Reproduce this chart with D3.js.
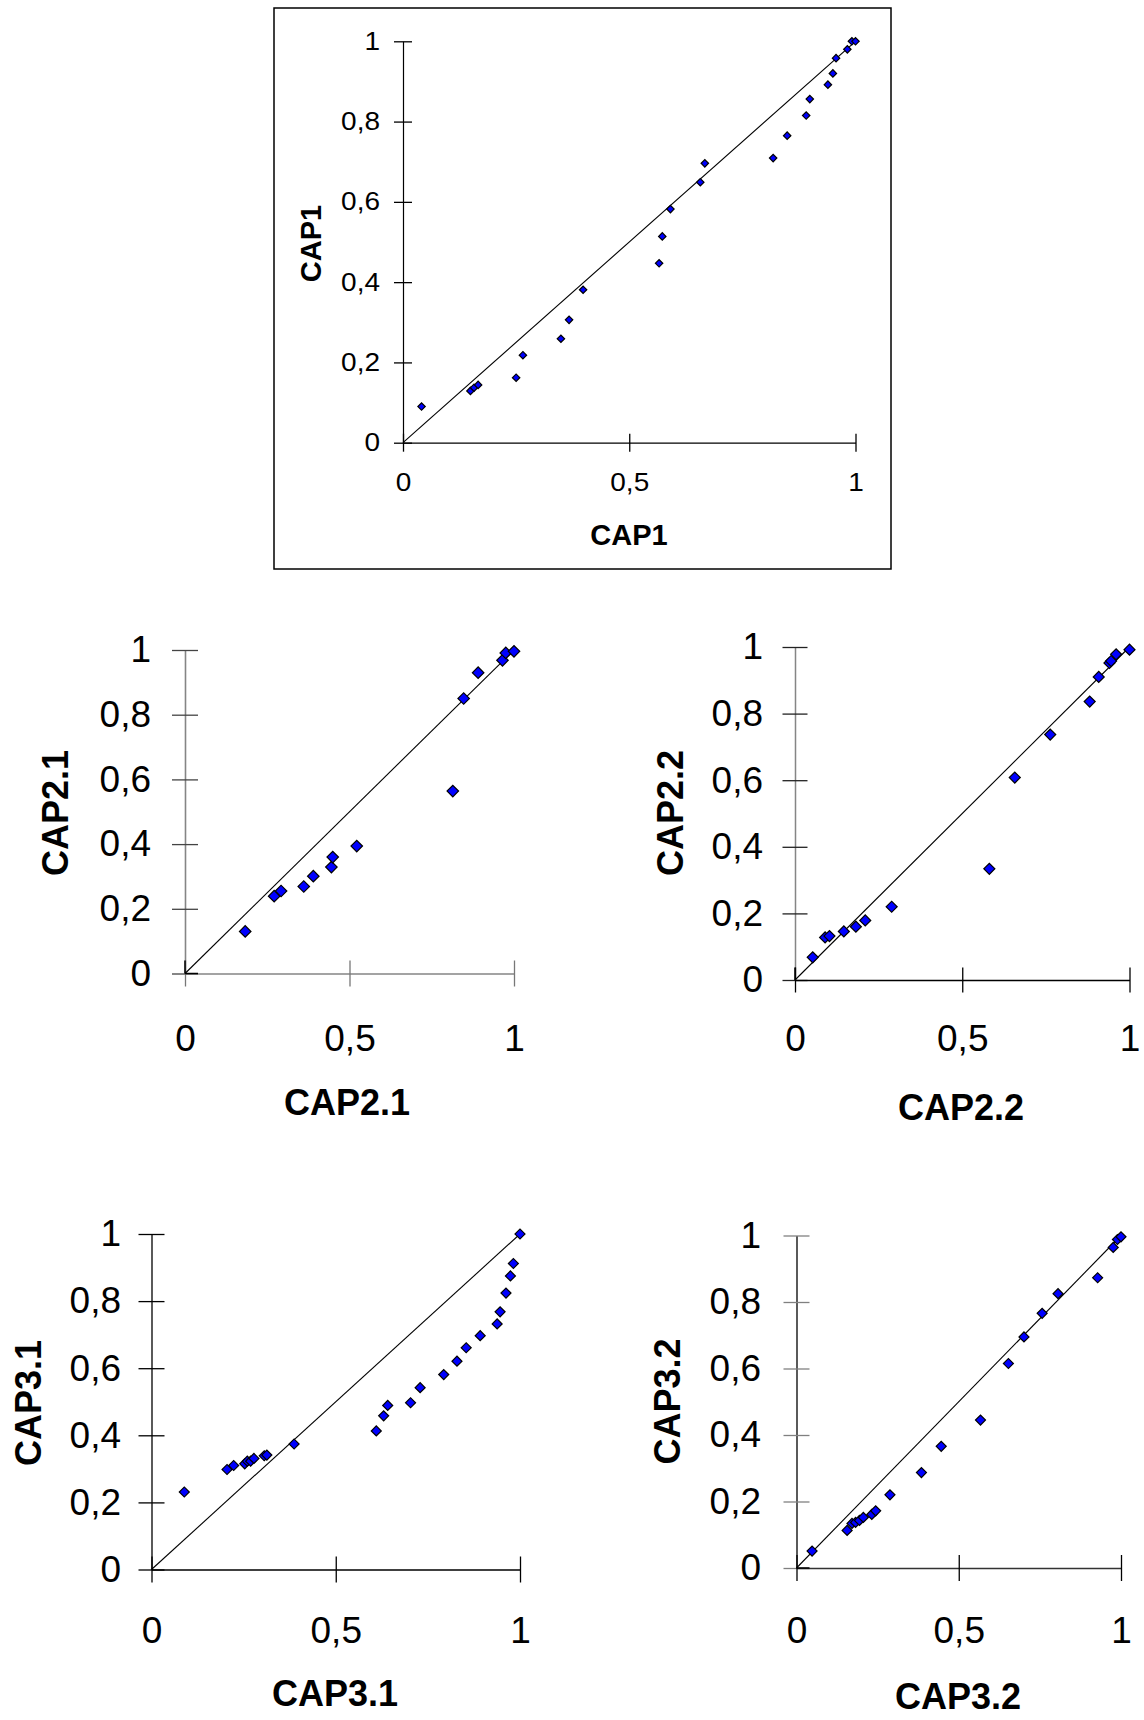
<!DOCTYPE html>
<html>
<head>
<meta charset="utf-8">
<script src="https://cdn.jsdelivr.net/npm/d3@7"></script>
<style>
  html, body { margin: 0; padding: 0; background: #fff; }
  svg { display: block; }
  text { font-family: "Liberation Sans", Arial, sans-serif; fill: #000; }
</style>
</head>
<body>
<svg id="chart" width="1144" height="1720"></svg>
<script>
// Tick values shared by every panel
const xTickValues = [0, 0.5, 1];
const yTickValues = [0, 0.2, 0.4, 0.6, 0.8, 1];

// CAP1 vs CAP1
const cap1X = [0.041, 0.149, 0.157, 0.166, 0.250, 0.265, 0.349, 0.367, 0.398, 0.566, 0.573, 0.591,
               0.657, 0.667, 0.818, 0.849, 0.891, 0.899, 0.939, 0.950, 0.957, 0.982, 0.992, 1.0];
const cap1Y = [0.090, 0.129, 0.137, 0.144, 0.162, 0.218, 0.259, 0.306, 0.381, 0.447, 0.514, 0.582,
               0.649, 0.696, 0.709, 0.765, 0.815, 0.856, 0.892, 0.920, 0.958, 0.980, 1.0, 1.0];

// CAP2.1 vs CAP2.1
const cap21X = [0.183, 0.271, 0.292, 0.361, 0.390, 0.445, 0.449, 0.522, 0.814, 0.847, 0.891, 0.965, 0.975, 1.0];
const cap21Y = [0.130, 0.239, 0.255, 0.269, 0.301, 0.329, 0.360, 0.394, 0.564, 0.850, 0.930, 0.968, 0.991, 0.996];

// CAP2.2 vs CAP2.2
const cap22X = [0.053, 0.090, 0.103, 0.146, 0.182, 0.210, 0.289, 0.581, 0.657, 0.763, 0.881, 0.908,
                0.940, 0.945, 0.960, 1.0];
const cap22Y = [0.068, 0.128, 0.132, 0.146, 0.160, 0.179, 0.220, 0.334, 0.608, 0.737, 0.836, 0.910,
                0.952, 0.958, 0.978, 0.992];

// CAP3.1 vs CAP3.1
const cap31X = [0.089, 0.205, 0.223, 0.253, 0.260, 0.269, 0.278, 0.306, 0.313, 0.387, 0.610, 0.630, 0.641,
                0.703, 0.729, 0.793, 0.829, 0.854, 0.892, 0.938, 0.946, 0.962, 0.974, 0.982, 1.0];
const cap31Y = [0.231, 0.298, 0.310, 0.315, 0.323, 0.323, 0.331, 0.339, 0.341, 0.374, 0.413, 0.458, 0.489,
                0.497, 0.542, 0.581, 0.621, 0.661, 0.697, 0.732, 0.768, 0.824, 0.875, 0.912, 1.0];

// CAP3.2 vs CAP3.2
const cap32X = [0.048, 0.156, 0.171, 0.182, 0.194, 0.206, 0.232, 0.244, 0.288, 0.385, 0.446, 0.567,
                0.653, 0.701, 0.757, 0.806, 0.928, 0.976, 0.989, 1.0];
const cap32Y = [0.051, 0.113, 0.134, 0.137, 0.143, 0.152, 0.161, 0.172, 0.220, 0.287, 0.366, 0.445,
                0.615, 0.695, 0.766, 0.825, 0.873, 0.964, 0.988, 0.996];

// Reference diagonal y = x
const diagonal = [0, 1];

const commaFmt = v => String(v).replace(".", ",");

// Panel layout and styling
const panels = [
  { name: "CAP1", xs: cap1X, ys: cap1Y,
    x0: 403, x1: 855.5, y0: 442.7, y1: 41.3,
    box: { x: 274, y: 8, w: 617, h: 561 },
    tickFont: 25, tickStretch: 1.12, tickLen: 9, yPad: 14, xPad: 22,
    titleFont: 29, xTitle: { x: 629, y: 545 }, yTitle: { x: 321, y: 243.5 },
    marker: 7.4, yAxis: "#000", xAxis: "#000", yTick: "#000", xTick: "#000", axisW: 1.2 },
  { name: "CAP2.1", xs: cap21X, ys: cap21Y,
    x0: 185, x1: 514, y0: 973.5, y1: 650,
    tickFont: 37, tickStretch: 1, tickLen: 13, yPad: 21, xPad: 38.5,
    titleFont: 36, xTitle: { x: 347, y: 1115 }, yTitle: { x: 67.5, y: 813 },
    marker: 11.5, yAxis: "#858585", xAxis: "#858585", yTick: "#444", xTick: "#777", axisW: 1.6,
    origin: { v: true, h: true } },
  { name: "CAP2.2", xs: cap22X, ys: cap22Y,
    x0: 795, x1: 1129.5, y0: 980, y1: 647,
    tickFont: 37, tickStretch: 1, tickLen: 12.5, yPad: 19.5, xPad: 32.5,
    titleFont: 36, xTitle: { x: 961, y: 1120 }, yTitle: { x: 683, y: 813 },
    marker: 11, yAxis: "#858585", xAxis: "#000", yTick: "#222", xTick: "#000", axisW: 1.5,
    origin: { v: true, h: false } },
  { name: "CAP3.1", xs: cap31X, ys: cap31Y,
    x0: 151.5, x1: 520, y0: 1569.5, y1: 1234,
    tickFont: 37, tickStretch: 1, tickLen: 13, yPad: 17.5, xPad: 34,
    titleFont: 36, xTitle: { x: 335, y: 1705.5 }, yTitle: { x: 41, y: 1403 },
    marker: 10, yAxis: "#000", xAxis: "#000", yTick: "#000", xTick: "#000", axisW: 1.3 },
  { name: "CAP3.2", xs: cap32X, ys: cap32Y,
    x0: 796.5, x1: 1121, y0: 1568, y1: 1235.5,
    tickFont: 37, tickStretch: 1, tickLen: 13, yPad: 22.5, xPad: 35.5,
    titleFont: 36, xTitle: { x: 958, y: 1709 }, yTitle: { x: 679.5, y: 1401.5 },
    marker: 10, yAxis: "#000", xAxis: "#333", yTick: "#808080", xTick: "#000", axisW: 1.3,
    origin: { v: false, h: true } }
];

const svg = d3.select("#chart");

panels.forEach(p => {
  const g = svg.append("g").attr("class", "panel");
  const x = d3.scaleLinear().domain([0, 1]).range([p.x0, p.x1]);
  const y = d3.scaleLinear().domain([0, 1]).range([p.y0, p.y1]);

  if (p.box) {
    g.append("rect")
      .attr("x", p.box.x).attr("y", p.box.y)
      .attr("width", p.box.w).attr("height", p.box.h)
      .attr("fill", "none").attr("stroke", "#000").attr("stroke-width", 1.5);
  }

  // Y axis with ticks crossing the axis line
  const yAx = g.append("g")
    .attr("transform", `translate(${p.x0},0)`)
    .call(d3.axisLeft(y).tickValues(yTickValues).tickFormat(commaFmt)
      .tickSize(p.tickLen).tickSizeOuter(0).tickPadding(p.yPad));
  yAx.select(".domain").attr("stroke", p.yAxis).attr("stroke-width", p.axisW);
  yAx.selectAll(".tick line").attr("x1", -p.tickLen).attr("x2", p.tickLen)
    .attr("stroke", p.yTick).attr("stroke-width", 1.3);
  yAx.selectAll(".tick text")
    .attr("font-size", p.tickFont).attr("font-family", null).attr("fill", "#000")
    .each(function () {
      const t = d3.select(this);
      const tx = +t.attr("x");
      t.attr("x", 0).attr("transform", `translate(${tx},0) scale(${p.tickStretch},1)`);
    });

  // X axis
  const xAx = g.append("g")
    .attr("transform", `translate(0,${p.y0})`)
    .call(d3.axisBottom(x).tickValues(xTickValues).tickFormat(commaFmt)
      .tickSize(p.tickLen).tickSizeOuter(0).tickPadding(p.xPad));
  xAx.select(".domain").attr("stroke", p.xAxis).attr("stroke-width", p.axisW);
  xAx.selectAll(".tick line").attr("y1", -p.tickLen).attr("y2", p.tickLen)
    .attr("stroke", p.xTick).attr("stroke-width", 1.3);
  xAx.selectAll(".tick text")
    .attr("font-size", p.tickFont).attr("font-family", null).attr("fill", "#000")
    .each(function () {
      const t = d3.select(this);
      const ty = +t.attr("y");
      t.attr("y", 0).attr("transform", `translate(0,${ty}) scale(${p.tickStretch},1)`);
    });
  svg.selectAll(".domain").attr("fill", "none");

  // Short dark marks at the origin
  if (p.origin && p.origin.v) {
    g.append("line").attr("x1", x(0)).attr("x2", x(0)).attr("y1", y(0)).attr("y2", y(0) - p.tickLen)
      .attr("stroke", "#000").attr("stroke-width", 1.5);
  }
  if (p.origin && p.origin.h) {
    g.append("line").attr("x1", x(0)).attr("x2", x(0) + p.tickLen).attr("y1", y(0)).attr("y2", y(0))
      .attr("stroke", "#000").attr("stroke-width", 1.5);
  }

  // Diagonal reference line
  g.append("path")
    .datum(diagonal)
    .attr("d", d3.line().x(d => x(d)).y(d => y(d)))
    .attr("fill", "none").attr("stroke", "#000").attr("stroke-width", 1.1);

  // Diamond markers
  const side = p.marker / Math.SQRT2;
  const sym = d3.symbol().type(d3.symbolSquare).size(side * side);
  g.append("g").selectAll("path")
    .data(p.xs.map((v, i) => [v, p.ys[i]]))
    .join("path")
    .attr("d", sym)
    .attr("transform", d => `translate(${x(d[0])},${y(d[1])}) rotate(45)`)
    .attr("fill", "#0000ff").attr("stroke", "#000").attr("stroke-width", 1.2);

  // Axis titles
  g.append("text")
    .attr("x", p.xTitle.x).attr("y", p.xTitle.y)
    .attr("text-anchor", "middle").attr("font-weight", "bold").attr("font-size", p.titleFont)
    .text(p.name);
  g.append("text")
    .attr("transform", `translate(${p.yTitle.x},${p.yTitle.y}) rotate(-90)`)
    .attr("text-anchor", "middle").attr("font-weight", "bold").attr("font-size", p.titleFont)
    .text(p.name);
});
</script>
</body>
</html>
